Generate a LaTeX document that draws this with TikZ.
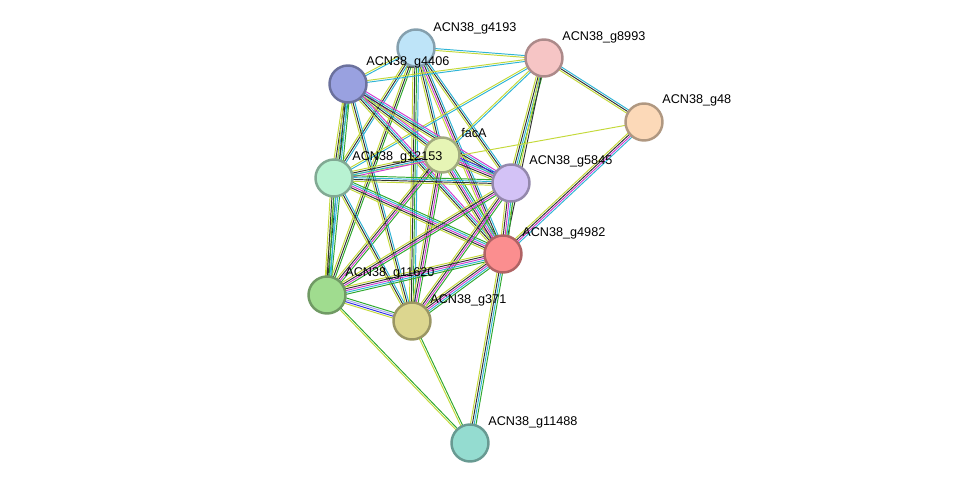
\documentclass[tikz,border=0pt]{standalone}
\usepackage{fontspec}
\setmainfont{Liberation Sans}
\usetikzlibrary{calc}

\definecolor{tmcol}{HTML}{C4D93A}
\definecolor{cocol}{HTML}{333333}
\definecolor{excol}{HTML}{D03CD0}
\definecolor{dbcol}{HTML}{2FB4D6}
\definecolor{nbcol}{HTML}{2EA82E}
\definecolor{fucol}{HTML}{3030E8}
\definecolor{hocol}{HTML}{A8A8F0}

% one STRING edge: several thin coloured lines side by side
\newcommand\edge[4]{%
  \foreach \c [count=\i] in {#4}{%
    \pgfmathsetmacro\off{(\i-(#3+1)/2)*1.05}%
    \draw[\c, line width=0.55pt] ($(#1)!\off pt!90:(#2)$) -- ($(#2)!\off pt!-90:(#1)$);
  }%
}

\begin{document}
\begin{tikzpicture}[
    x=0.02cm, y=-0.02cm,
    prot/.style={circle, draw=#1!70!black, fill=#1, line width=1.4pt, minimum size=0.74cm, inner sep=0pt},
    lbl/.style={anchor=west, font=\fontsize{7.2}{8}\selectfont, inner sep=0pt}
]
\definecolor{cA}{HTML}{BEE4F8}
\definecolor{cB}{HTML}{F6C5C5}
\definecolor{cC}{HTML}{99A1E0}
\definecolor{cD}{HTML}{FCD9B8}
\definecolor{cE}{HTML}{E6F5B5}
\definecolor{cF}{HTML}{B8F2D2}
\definecolor{cG}{HTML}{D3C2F6}
\definecolor{cH}{HTML}{FB8E8F}
\definecolor{cI}{HTML}{A0DC8F}
\definecolor{cJ}{HTML}{DCD68F}
\definecolor{cK}{HTML}{94DCD0}
\useasboundingbox (0,0) rectangle (975,489);

% centres
\coordinate (p4193) at (416,48);
\coordinate (p8993) at (544,58);
\coordinate (p4406) at (348,84);
\coordinate (p48) at (644,122);
\coordinate (pfacA) at (442,155);
\coordinate (p12153) at (334,178);
\coordinate (p5845) at (511,183);
\coordinate (p4982) at (503,254);
\coordinate (p11620) at (327,295);
\coordinate (p371) at (412,321);
\coordinate (p11488) at (470,443);

% edges
\edge{p4193}{p8993}{2}{tmcol,dbcol}
\edge{p4193}{p4406}{2}{tmcol,dbcol}
\edge{p4193}{pfacA}{3}{tmcol,cocol,dbcol}
\edge{p4193}{p12153}{3}{tmcol,cocol,dbcol}
\edge{p4193}{p5845}{3}{tmcol,cocol,dbcol}
\edge{p4193}{p4982}{4}{tmcol,excol,cocol,dbcol}
\edge{p4193}{p11620}{3}{tmcol,cocol,nbcol}
\edge{p4193}{p371}{4}{tmcol,cocol,nbcol,dbcol}
\edge{p8993}{p4406}{2}{tmcol,dbcol}
\edge{p8993}{p48}{3}{tmcol,cocol,dbcol}
\edge{p8993}{pfacA}{2}{tmcol,dbcol}
\edge{p8993}{p12153}{2}{tmcol,dbcol}
\edge{p8993}{p5845}{4}{tmcol,cocol,dbcol,nbcol}
\edge{p8993}{p4982}{2}{tmcol,cocol}
\edge{p4406}{pfacA}{4}{tmcol,cocol,dbcol,excol}
\edge{p4406}{p12153}{4}{tmcol,cocol,dbcol,nbcol}
\edge{p4406}{p5845}{4}{tmcol,cocol,dbcol,excol}
\edge{p4406}{p4982}{4}{tmcol,cocol,dbcol,excol}
\edge{p4406}{p11620}{4}{tmcol,cocol,dbcol,nbcol}
\edge{p4406}{p371}{3}{tmcol,cocol,dbcol}
\edge{p48}{p12153}{1}{tmcol}
\edge{p48}{p4982}{4}{tmcol,cocol,excol,dbcol}
\edge{pfacA}{p12153}{4}{tmcol,cocol,dbcol,excol}
\edge{pfacA}{p5845}{5}{tmcol,cocol,excol,dbcol,fucol}
\edge{pfacA}{p4982}{5}{tmcol,cocol,excol,dbcol,nbcol}
\edge{pfacA}{p11620}{4}{tmcol,cocol,excol,nbcol}
\edge{pfacA}{p371}{4}{tmcol,cocol,excol,nbcol}
\edge{p12153}{p5845}{4}{tmcol,cocol,dbcol,nbcol}
\edge{p12153}{p4982}{5}{tmcol,cocol,excol,dbcol,nbcol}
\edge{p12153}{p11620}{4}{tmcol,cocol,nbcol,dbcol}
\edge{p12153}{p371}{3}{tmcol,cocol,dbcol}
\edge{p5845}{p4982}{5}{tmcol,cocol,excol,dbcol,nbcol}
\edge{p5845}{p11620}{4}{tmcol,cocol,excol,nbcol}
\edge{p5845}{p371}{4}{tmcol,cocol,excol,nbcol}
\edge{p4982}{p11620}{5}{tmcol,cocol,excol,dbcol,nbcol}
\edge{p4982}{p371}{5}{tmcol,cocol,excol,dbcol,nbcol}
\edge{p4982}{p11488}{4}{tmcol,cocol,dbcol,nbcol}
\edge{p11620}{p371}{4}{tmcol,fucol,hocol,nbcol}
\edge{p11620}{p11488}{2}{tmcol,nbcol}
\edge{p371}{p11488}{2}{tmcol,nbcol}

% proteins
\node[prot=cA] (g4193) at (p4193) {};
\node[prot=cB] (g8993) at (p8993) {};
\node[prot=cC] (g4406) at (p4406) {};
\node[prot=cD] (g48) at (p48) {};
\node[prot=cE, minimum size=0.7cm] (facA) at (pfacA) {};
\node[prot=cF] (g12153) at (p12153) {};
\node[prot=cG] (g5845) at (p5845) {};
\node[prot=cH] (g4982) at (p4982) {};
\node[prot=cI] (g11620) at (p11620) {};
\node[prot=cJ] (g371) at (p371) {};
\node[prot=cK] (g11488) at (p11488) {};

% labels
\node[lbl] (l4193) at ($(p4193)+(17,-20)$) {ACN38\_g4193};
\node[lbl] (l8993) at ($(p8993)+(18,-21)$) {ACN38\_g8993};
\node[lbl] (l4406) at ($(p4406)+(18,-22)$) {ACN38\_g4406};
\node[lbl] (l48) at ($(p48)+(18,-22)$) {ACN38\_g48};
\node[lbl] (lfacA) at ($(pfacA)+(19,-22)$) {facA};
\node[lbl] (l12153) at ($(p12153)+(18,-21)$) {ACN38\_g12153};
\node[lbl] (l5845) at ($(p5845)+(18,-22)$) {ACN38\_g5845};
\node[lbl] (l4982) at ($(p4982)+(19,-21)$) {ACN38\_g4982};
\node[lbl] (l11620) at ($(p11620)+(18,-22)$) {ACN38\_g11620};
\node[lbl] (l371) at ($(p371)+(18,-21)$) {ACN38\_g371};
\node[lbl] (l11488) at ($(p11488)+(18,-21)$) {ACN38\_g11488};
\end{tikzpicture}
\end{document}
